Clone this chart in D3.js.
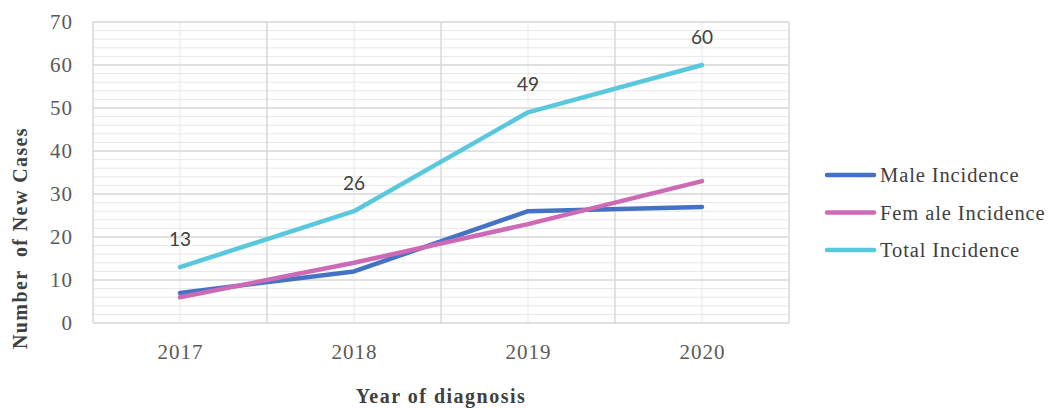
<!DOCTYPE html>
<html>
<head>
<meta charset="utf-8">
<script src="https://cdn.jsdelivr.net/npm/d3@7"></script>
<style>
  body { margin: 0; background: #fff; }
</style>
</head>
<body>
<div class="canvas"></div>
<script>
// data
const years = ['2017', '2018', '2019', '2020'];
const male = [7, 12, 26, 27];
const female = [6, 14, 23, 33];
const total = [13, 26, 49, 60];
const seriesNames = ['Male Incidence', 'Fem ale Incidence', 'Total Incidence'];
const seriesColors = ['#4472c4', '#cc6ab6', '#5ac8dc'];
const yTicks = [0, 10, 20, 30, 40, 50, 60, 70];

const series = [male, female, total];

const svg = d3.select('.canvas')
    .append('svg')
    .attr('width', 1052)
    .attr('height', 408);

// plot box
const margin = { top: 22, left: 93 };
const graphWidth = 696;
const graphHeight = 301;

const graph = svg.append('g')
    .attr('transform', `translate(${margin.left}, ${margin.top})`);

const xBand = d3.scaleBand()
    .domain(years)
    .range([0, graphWidth]);

const xScale = d3.scalePoint()
    .domain(years)
    .range([0, graphWidth])
    .padding(0.5);

const yScale = d3.scaleLinear()
    .domain([0, 70])
    .range([graphHeight, 0]);

// minor horizontal gridlines
graph.append('g')
    .selectAll('line')
    .data(d3.range(0, 71, 2).filter(v => v % 10 !== 0))
    .enter().append('line')
    .attr('x1', 0).attr('x2', graphWidth)
    .attr('y1', d => yScale(d)).attr('y2', d => yScale(d))
    .attr('stroke', '#e8e8e8')
    .attr('stroke-width', 1);

// minor vertical gridlines at categories
graph.append('g')
    .selectAll('line')
    .data(years)
    .enter().append('line')
    .attr('x1', d => xScale(d)).attr('x2', d => xScale(d))
    .attr('y1', 0).attr('y2', graphHeight)
    .attr('stroke', '#e8e8e8');

// major horizontal gridlines
graph.append('g')
    .selectAll('line')
    .data(yTicks)
    .enter().append('line')
    .attr('x1', 0).attr('x2', graphWidth)
    .attr('y1', d => yScale(d)).attr('y2', d => yScale(d))
    .attr('stroke', '#d6d6d6')
    .attr('stroke-width', 1.4);

// major vertical gridlines at band edges
graph.append('g')
    .selectAll('line')
    .data(years.map(y => xBand(y)).concat([graphWidth]))
    .enter().append('line')
    .attr('x1', d => d).attr('x2', d => d)
    .attr('y1', 0).attr('y2', graphHeight)
    .attr('stroke', '#d6d6d6')
    .attr('stroke-width', 1.4);

// axes
const yAxis = d3.axisLeft(yScale).tickValues(yTicks).tickSize(0).tickPadding(20);
const xAxis = d3.axisBottom(xScale).tickSize(0).tickPadding(21);

const yAxisGroup = graph.append('g').call(yAxis);
const xAxisGroup = graph.append('g')
    .attr('transform', `translate(0, ${graphHeight})`)
    .call(xAxis);

[yAxisGroup, xAxisGroup].forEach(g => {
    g.select('.domain').remove();
    g.selectAll('text')
        .attr('font-family', '"Liberation Serif", serif')
        .attr('font-size', 21)
        .attr('letter-spacing', 1)
        .attr('fill', '#595959');
});

// lines
const line = d3.line()
    .x((d, i) => xScale(years[i]))
    .y(d => yScale(d));

graph.selectAll('path.series')
    .data(series)
    .enter().append('path')
    .attr('class', 'series')
    .attr('d', d => line(d))
    .attr('fill', 'none')
    .attr('stroke', (d, i) => seriesColors[i])
    .attr('stroke-width', 4.5)
    .attr('stroke-linecap', 'round')
    .attr('stroke-linejoin', 'round');

// total labels
graph.selectAll('text.lbl')
    .data(total)
    .enter().append('text')
    .attr('class', 'lbl')
    .attr('x', (d, i) => xScale(years[i]))
    .attr('y', d => yScale(d) - 21)
    .attr('text-anchor', 'middle')
    .attr('font-family', 'Lato, sans-serif')
    .attr('font-size', 19)
    .attr('fill', '#404040')
    .text(d => d);

// axis titles
svg.append('text')
    .attr('transform', 'translate(27, 238) rotate(-90)')
    .attr('text-anchor', 'middle')
    .attr('font-family', '"Liberation Serif", serif')
    .attr('font-weight', 'bold')
    .attr('font-size', 20)
    .attr('letter-spacing', 1.4)
    .attr('fill', '#404040')
    .attr('xml:space', 'preserve')
    .text('Number  of New Cases');

svg.append('text')
    .attr('x', margin.left + graphWidth / 2)
    .attr('y', 403)
    .attr('text-anchor', 'middle')
    .attr('font-family', '"Liberation Serif", serif')
    .attr('font-weight', 'bold')
    .attr('font-size', 20)
    .attr('letter-spacing', 1.5)
    .attr('fill', '#404040')
    .text('Year of diagnosis');

// legend
const legend = svg.append('g')
    .attr('transform', 'translate(827, 175)');

const items = legend.selectAll('g')
    .data(seriesNames)
    .enter().append('g')
    .attr('transform', (d, i) => `translate(0, ${i * 37.5})`);

items.append('line')
    .attr('x1', 0).attr('x2', 47)
    .attr('stroke', (d, i) => seriesColors[i])
    .attr('stroke-width', 4.5)
    .attr('stroke-linecap', 'round');

items.append('text')
    .attr('x', 53)
    .attr('y', 7)
    .attr('font-family', '"Liberation Serif", serif')
    .attr('font-size', 20.5)
    .attr('letter-spacing', 0.9)
    .attr('fill', '#404040')
    .text(d => d);
</script>
</body>
</html>
